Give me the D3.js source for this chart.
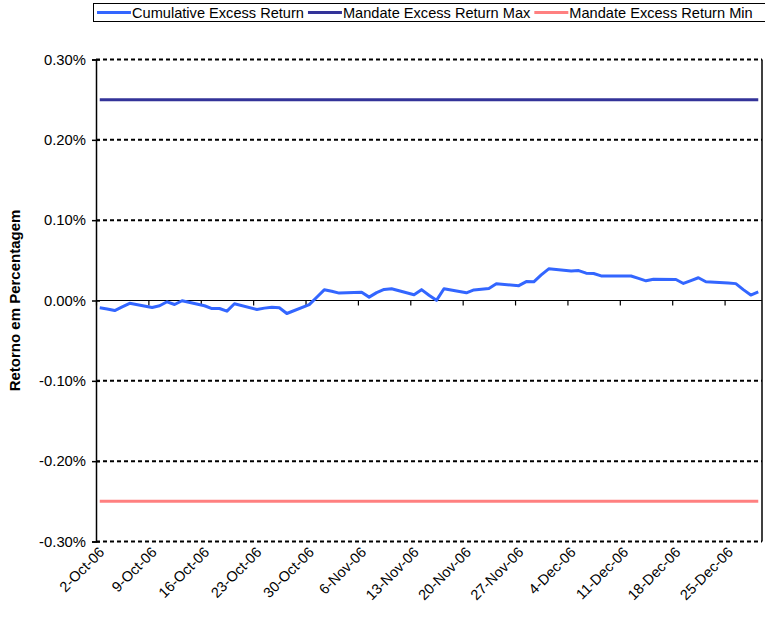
<!DOCTYPE html>
<html>
<head>
<meta charset="utf-8">
<script src="https://cdn.jsdelivr.net/npm/d3@7"></script>
<style>
  body { margin: 0; background: #fff; }
  svg { display: block; font-family: Arial, "Liberation Sans", sans-serif; }
</style>
</head>
<body>
<div id="chart"></div>
<script>
// business days, Oct-Dec 2006
const dates = [
  "2006-10-02", "2006-10-03", "2006-10-04", "2006-10-05", "2006-10-06",
  "2006-10-09", "2006-10-10", "2006-10-11", "2006-10-12", "2006-10-13",
  "2006-10-16", "2006-10-17", "2006-10-18", "2006-10-19", "2006-10-20",
  "2006-10-23", "2006-10-24", "2006-10-25", "2006-10-26", "2006-10-27",
  "2006-10-30", "2006-10-31", "2006-11-01", "2006-11-02", "2006-11-03",
  "2006-11-06", "2006-11-07", "2006-11-08", "2006-11-09", "2006-11-10",
  "2006-11-13", "2006-11-14", "2006-11-15", "2006-11-16", "2006-11-17",
  "2006-11-20", "2006-11-21", "2006-11-22", "2006-11-23", "2006-11-24",
  "2006-11-27", "2006-11-28", "2006-11-29", "2006-11-30", "2006-12-01",
  "2006-12-04", "2006-12-05", "2006-12-06", "2006-12-07", "2006-12-08",
  "2006-12-11", "2006-12-12", "2006-12-13", "2006-12-14", "2006-12-15",
  "2006-12-18", "2006-12-19", "2006-12-20", "2006-12-21", "2006-12-22",
  "2006-12-25", "2006-12-26", "2006-12-27", "2006-12-28", "2006-12-29"
];

// cumulative excess return, in %
const cumulative = [
  -0.0090, -0.0105, -0.0125, -0.0080, -0.0035,
  -0.0087, -0.0066, -0.0016, -0.0050, -0.0003,
  -0.0065, -0.0100, -0.0100, -0.0133, -0.0041,
  -0.0112, -0.0095, -0.0083, -0.0091, -0.0162,
  -0.0052, 0.0040, 0.0133, 0.0115, 0.0092,
  0.0102, 0.0042, 0.0098, 0.0138, 0.0147,
  0.0072, 0.0135, 0.0065, 0.0002, 0.0147,
  0.0096, 0.0132, 0.0140, 0.0150, 0.0208,
  0.0185, 0.0235, 0.0232, 0.0318, 0.0394,
  0.0368, 0.0372, 0.0340, 0.0336, 0.0306,
  0.0305, 0.0305, 0.0275, 0.0245, 0.0265,
  0.0262, 0.0212, 0.0248, 0.0283, 0.0233,
  0.0218, 0.0210, 0.0135, 0.0068, 0.0108
];

const mandateMax = 0.25;
const mandateMin = -0.25;

const yTicks = [0.3, 0.2, 0.1, 0, -0.1, -0.2, -0.3];
const xTickDates = ["2006-10-02", "2006-10-09", "2006-10-16", "2006-10-23", "2006-10-30",
  "2006-11-06", "2006-11-13", "2006-11-20", "2006-11-27", "2006-12-04",
  "2006-12-11", "2006-12-18", "2006-12-25"];

const seriesNames = ["Cumulative Excess Return", "Mandate Excess Return Max", "Mandate Excess Return Min"];
const seriesColors = ["#3366ff", "#333399", "#ff8080"];

const width = 765, height = 620;
const margin = { top: 59.5, right: 3, bottom: 78.5, left: 96 };

const parse = d3.timeParse("%Y-%m-%d");
const fmtTick = d3.timeFormat("%-d-%b-%y");
const days = dates.map(parse);
const mid = d => d3.timeHour.offset(d, 12);
const pct = d => d3.format(".2f")(d).replace("\u2212", "-") + "%";

const x = d3.scaleTime()
  .domain([parse("2006-10-02"), parse("2006-12-30")])
  .range([margin.left, width - margin.right]);

const y = d3.scaleLinear()
  .domain([-0.3, 0.3])
  .range([height - margin.bottom, margin.top]);

const svg = d3.select("#chart").append("svg")
  .attr("width", width)
  .attr("height", height);

// gridlines
svg.append("g")
  .selectAll("line")
  .data(yTicks.filter(v => v !== 0))
  .join("line")
  .attr("x1", margin.left)
  .attr("x2", width - margin.right)
  .attr("y1", d => y(d))
  .attr("y2", d => y(d))
  .attr("stroke", "#000")
  .attr("stroke-width", 2)
  .attr("stroke-dasharray", "4,3");

// right border
svg.append("line")
  .attr("x1", width - margin.right).attr("x2", width - margin.right)
  .attr("y1", y(0.3)).attr("y2", y(-0.3))
  .attr("stroke", "#000").attr("stroke-width", 1.5);

// y axis
const yAxis = svg.append("g")
  .attr("transform", `translate(${margin.left},0)`)
  .call(d3.axisLeft(y).tickValues(yTicks).tickSize(4).tickFormat(pct));
yAxis.select(".domain").attr("stroke-width", 1.5);
yAxis.selectAll(".tick line").attr("x2", -4).attr("x1", 4).attr("stroke-width", 1.5);
yAxis.selectAll(".tick text")
  .attr("x", -10)
  .attr("font-size", 14.8)
  .attr("font-family", "Arial, 'Liberation Sans', sans-serif");

// x axis on zero line
const xAxis = svg.append("g")
  .attr("transform", `translate(0,${y(0)})`)
  .call(d3.axisBottom(x).tickValues(xTickDates.map(parse)).tickSize(5).tickFormat(""));
xAxis.select(".domain").attr("d", `M${margin.left},0H${width - margin.right}`);
xAxis.selectAll(".tick line").attr("stroke-width", 1.2);

// x tick labels at bottom
svg.append("g")
  .attr("font-size", 14.5)
  .selectAll("text")
  .data(xTickDates.map(parse))
  .join("text")
  .attr("transform", d => `translate(${x(mid(d)) + 2},${y(-0.3) + 8}) rotate(-45)`)
  .attr("text-anchor", "end")
  .attr("dy", "0.35em")
  .text(d => fmtTick(d));

// y axis title
svg.append("text")
  .attr("transform", `translate(20,${(y(0.3) + y(-0.3)) / 2}) rotate(-90)`)
  .attr("text-anchor", "middle")
  .attr("font-weight", "bold")
  .attr("font-size", 15)
  .text("Retorno em Percentagem");

// lines
const line = d3.line()
  .x((d, i) => x(mid(days[i])))
  .y(d => y(d));

svg.append("path")
  .datum(dates.map(() => mandateMax))
  .attr("fill", "none")
  .attr("stroke", seriesColors[1])
  .attr("stroke-width", 3)
  .attr("d", line);

svg.append("path")
  .datum(dates.map(() => mandateMin))
  .attr("fill", "none")
  .attr("stroke", seriesColors[2])
  .attr("stroke-width", 3)
  .attr("d", line);

svg.append("path")
  .datum(cumulative)
  .attr("fill", "none")
  .attr("stroke", seriesColors[0])
  .attr("stroke-width", 3)
  .attr("stroke-linejoin", "round")
  .attr("d", line);

// legend
const legend = svg.append("g");
legend.append("rect")
  .attr("x", 93.5).attr("y", 3.5)
  .attr("width", 700).attr("height", 18)
  .attr("fill", "#fff")
  .attr("stroke", "#000");

let lx = 97;
seriesNames.forEach((name, i) => {
  legend.append("line")
    .attr("x1", lx).attr("x2", lx + 34)
    .attr("y1", 12.5).attr("y2", 12.5)
    .attr("stroke", seriesColors[i])
    .attr("stroke-width", 3);
  const t = legend.append("text")
    .attr("x", lx + 35)
    .attr("y", 12.5)
    .attr("dy", "0.35em")
    .attr("font-size", 14.6)
    .text(name);
  lx += 35 + t.node().getComputedTextLength() + 4;
});
</script>
</body>
</html>
